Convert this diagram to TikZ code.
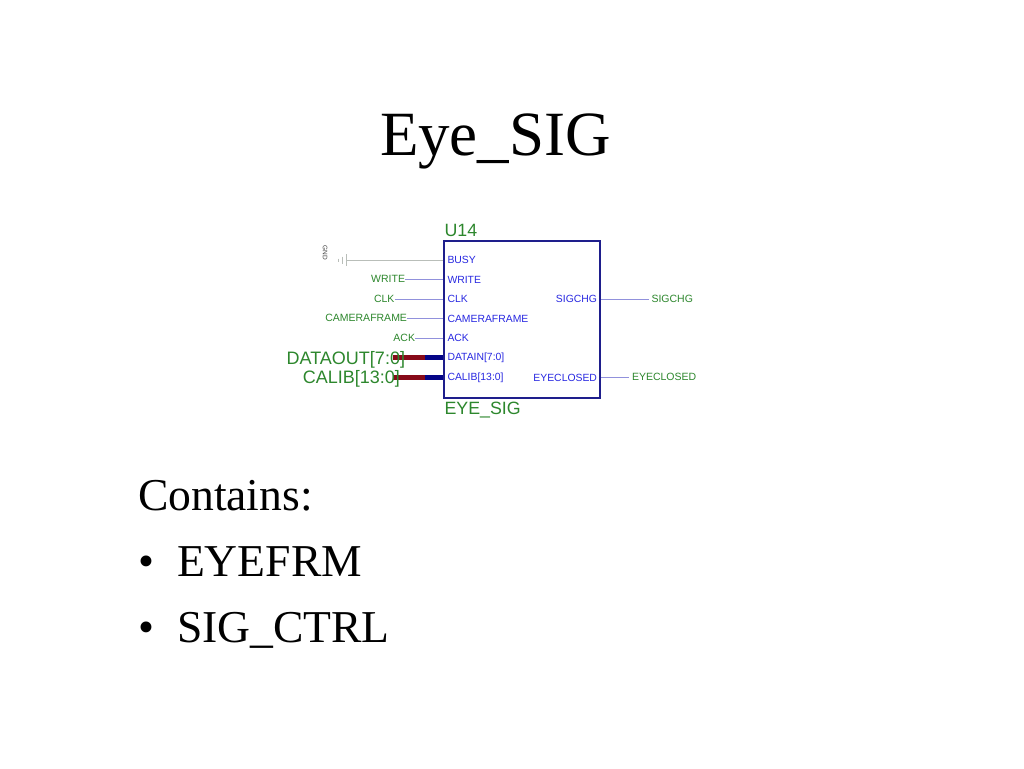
\documentclass[tikz,border=0pt]{standalone}
\usepackage{fontspec}
\setmainfont{Liberation Serif}
\newfontfamily\schem{Liberation Sans}
\definecolor{pinblue}{RGB}{40,40,225}
\definecolor{boxblue}{RGB}{30,30,140}
\definecolor{netgreen}{RGB}{45,135,45}
\definecolor{wirelav}{RGB}{145,145,220}
\definecolor{busred}{RGB}{135,10,25}
\definecolor{busblue}{RGB}{5,5,135}
\definecolor{gndgray}{RGB}{185,190,185}
\newcommand{\fs}[1]{\fontsize{#1}{#1}\selectfont}
\tikzset{
  x=1pt,y=-1pt,
  every node/.style={inner sep=0pt,outer sep=0pt},
  titletext/.style={anchor=base west,font=\fs{63}},
  bodytext/.style={anchor=base west,font=\fs{45.6}},
  pinl/.style={anchor=west,text=pinblue,font=\schem\fs{10.4}},
  pinr/.style={anchor=east,text=pinblue,font=\schem\fs{10.4}},
  netl/.style={anchor=east,text=netgreen,font=\schem\fs{10.5}},
  netr/.style={anchor=west,text=netgreen,font=\schem\fs{10.5}},
  busnet/.style={anchor=east,text=netgreen,font=\schem\fs{18}},
  partlab/.style={anchor=base west,text=netgreen,font=\schem\fs{17.8}},
  wire/.style={draw=wirelav,line width=1pt},
  buswire/.style={line width=4.2pt},
  chipbox/.style={draw=boxblue,line width=2pt,minimum width=156pt,minimum height=157pt,anchor=north west},
  gndline/.style={draw=gndgray,line width=1pt},
}
\begin{document}
\begin{tikzpicture}
\useasboundingbox[fill=white] (0,0) rectangle (1024,768);
\node[titletext] (title) at (380,155) {Eye\_SIG};
\node[bodytext] (contains) at (138,510) {Contains:};
\node[bodytext] (b1) at (138,576) {•};
\node[bodytext] (i1) at (177,576) {EYEFRM};
\node[bodytext] (b2) at (138,642) {•};
\node[bodytext] (i2) at (177,642) {SIG\_CTRL};

\coordinate (gndtip) at (346,260);
\coordinate (busyp) at (444,260);
\coordinate (writep) at (444,279.5);
\coordinate (clkp) at (444,299);
\coordinate (camp) at (444,318.5);
\coordinate (ackp) at (444,338);
\coordinate (datap) at (444,357.5);
\coordinate (calp) at (444,377.5);
\coordinate (sigp) at (600,299);
\coordinate (eyep) at (600,377.5);
\coordinate (sigend) at (649,299);
\coordinate (eyeend) at (629,377.5);

\node[netl] (nwrite) at (405,279) {WRITE};
\node[netl] (nclk) at (394.5,299) {CLK};
\node[netl] (ncam) at (407,318) {CAMERAFRAME};
\node[netl] (nack) at (415,338) {ACK};
\node[netr] (nsig) at (651.5,298.5) {SIGCHG};
\node[netr] (neye) at (632,377) {EYECLOSED};

\draw[gndline] (gndtip) -- (busyp);
\draw[gndline] (346,254) -- (346,266);
\draw[gndline] (342,256.5) -- (342,263.5);
\draw[gndline] (338.5,258.5) -- (338.5,261.5);
\node[rotate=-90,text=black!75,font=\schem\fs{6.5}] (gnd) at (325,252.5) {GND};

\draw[wire] (nwrite.east |- writep) -- (writep);
\draw[wire] (nclk.east |- clkp) -- (clkp);
\draw[wire] (ncam.east |- camp) -- (camp);
\draw[wire] (nack.east |- ackp) -- (ackp);
\draw[wire] (sigp) -- (sigend);
\draw[wire] (eyep) -- (eyeend);

\coordinate (dmid) at (425,357.5);
\coordinate (cmid) at (425,377.5);
\coordinate (dend) at (393,357.5);
\coordinate (cend) at (393,377.5);
\draw[draw=busred,buswire] (dend) -- (dmid);
\draw[draw=busblue,buswire] (dmid) -- (datap);
\draw[draw=busred,buswire] (cend) -- (cmid);
\draw[draw=busblue,buswire] (cmid) -- (calp);

\node[busnet] (ndata) at (405,359.5) {DATAOUT[7:0]};
\node[busnet] (ncal) at (400,378.5) {CALIB[13:0]};

\node[chipbox] (chip) at (444,240.5) {};
\node[partlab] (u14) at (444.5,236) {U14};
\node[partlab] (eyesig) at (444.5,414) {EYE\_SIG};

\node[pinl] (pbusy) at (447.5,259.5) {BUSY};
\node[pinl] (pwrite) at (447.5,279.5) {WRITE};
\node[pinl] (pclk) at (447.5,299) {CLK};
\node[pinl] (pcam) at (447.5,318.5) {CAMERAFRAME};
\node[pinl] (pack) at (447.5,338) {ACK};
\node[pinl] (pdata) at (447.5,358) {DATAIN[7:0]};
\node[pinl] (pcal) at (447.5,377.5) {CALIB[13:0]};
\node[pinr] (psig) at (597,299) {SIGCHG};
\node[pinr] (peye) at (597,377.5) {EYECLOSED};
\end{tikzpicture}
\end{document}
